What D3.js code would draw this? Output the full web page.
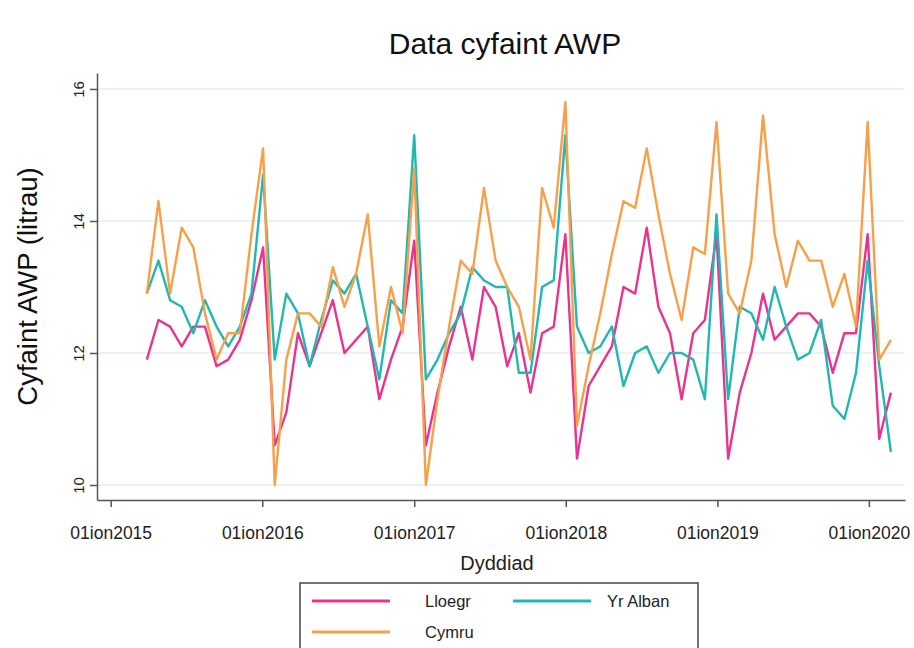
<!DOCTYPE html>
<html>
<head>
<meta charset="utf-8">
<script src="https://cdn.jsdelivr.net/npm/d3@7"></script>
<style>
    body { margin: 0; background: #fff; }
    svg { font-family: "Liberation Sans", Arial, sans-serif; }
</style>
</head>
<body>
<div id="awp-chart"></div>
<script>
// one value every 4 weeks, first period 29 Mar 2015
const startDate = new Date(2015, 2, 29);
const periodDays = 28;

const lloegr = [
    11.9, 12.5, 12.4, 12.1, 12.4, 12.4, 11.8, 11.9, 12.2, 12.8,
    13.6, 10.6, 11.1, 12.3, 11.8, 12.3, 12.8, 12.0, 12.2, 12.4,
    11.3, 11.9, 12.4, 13.7, 10.6, 11.4, 12.1, 12.7, 11.9, 13.0,
    12.7, 11.8, 12.3, 11.4, 12.3, 12.4, 13.8, 10.4, 11.5, 11.8,
    12.1, 13.0, 12.9, 13.9, 12.7, 12.3, 11.3, 12.3, 12.5, 13.8,
    10.4, 11.4, 12.0, 12.9, 12.2, 12.4, 12.6, 12.6, 12.4, 11.7,
    12.3, 12.3, 13.8, 10.7, 11.4
];
const yrAlban = [
    12.9, 13.4, 12.8, 12.7, 12.3, 12.8, 12.4, 12.1, 12.4, 12.9,
    14.7, 11.9, 12.9, 12.6, 11.8, 12.5, 13.1, 12.9, 13.2, 12.4,
    11.6, 12.8, 12.6, 15.3, 11.6, 11.9, 12.3, 12.6, 13.3, 13.1,
    13.0, 13.0, 11.7, 11.7, 13.0, 13.1, 15.3, 12.4, 12.0, 12.1,
    12.4, 11.5, 12.0, 12.1, 11.7, 12.0, 12.0, 11.9, 11.3, 14.1,
    11.3, 12.7, 12.6, 12.2, 13.0, 12.4, 11.9, 12.0, 12.5, 11.2,
    11.0, 11.7, 13.4, 11.8, 10.5
];
const cymru = [
    12.9, 14.3, 12.9, 13.9, 13.6, 12.6, 11.9, 12.3, 12.3, 13.8,
    15.1, 10.0, 11.9, 12.6, 12.6, 12.4, 13.3, 12.7, 13.2, 14.1,
    12.1, 13.0, 12.3, 14.8, 10.0, 11.3, 12.4, 13.4, 13.2, 14.5,
    13.4, 13.0, 12.7, 11.9, 14.5, 13.9, 15.8, 10.9, 11.8, 12.6,
    13.5, 14.3, 14.2, 15.1, 14.1, 13.2, 12.5, 13.6, 13.5, 15.5,
    12.9, 12.6, 13.4, 15.6, 13.8, 13.0, 13.7, 13.4, 13.4, 12.7,
    13.2, 12.4, 15.5, 11.9, 12.2
];

// drawing order matches legend order (Cymru on top)
const seriesNames = ['Lloegr', 'Yr Alban', 'Cymru'];
const seriesValues = [lloegr, yrAlban, cymru];
const seriesColors = ['#e8338f', '#22b7b2', '#f7a049'];

const tickYears = [2015, 2016, 2017, 2018, 2019, 2020];
const yTicks = [10, 12, 14, 16];

drawChart();

function drawChart(){
    let width = 914, height = 648;
    let margin = {top: 73, right: 9, bottom: 148, left: 97};

    let svg = d3.select('#awp-chart').append('svg')
                .attr('width', width)
                .attr('height', height);

    // scales
    let x = d3.scaleTime()
                .domain([new Date(2014, 10, 29), new Date(2020, 2, 28)])
                .range([margin.left, width - margin.right]);
    let y = d3.scaleLinear()
                .domain([9.773, 16.242])
                .range([height - margin.bottom, margin.top]);

    // build rows per series
    let series = seriesNames.map(function(name, i){
        return {
            name: name,
            color: seriesColors[i],
            values: seriesValues[i].map(function(v, k){
                return {date: d3.timeDay.offset(startDate, k * periodDays), value: v};
            })
        };
    });

    // grid lines
    svg.append('g')
        .selectAll('line')
        .data(yTicks)
        .enter().append('line')
        .attr('x1', margin.left)
        .attr('x2', width - margin.right)
        .attr('y1', d => y(d))
        .attr('y2', d => y(d))
        .attr('stroke', '#e4eef0')
        .attr('stroke-width', 1.6);

    // x axis
    let xAxis = svg.append('g')
        .attr('transform', 'translate(0,' + (height - margin.bottom) + ')')
        .call(d3.axisBottom(x)
            .tickValues(tickYears.map(yr => new Date(yr, 0, 1)))
            .tickFormat(d => '01ion' + d.getFullYear())
            .tickSize(7)
            .tickSizeOuter(0)
            .tickPadding(20));
    xAxis.selectAll('text').attr('font-size', 17.5).attr('fill', '#222');
    xAxis.selectAll('path, line').attr('stroke', '#555').attr('stroke-width', 1.5);

    // y axis, labels turned on their side
    let yAxis = svg.append('g')
        .attr('transform', 'translate(' + margin.left + ',0)')
        .call(d3.axisLeft(y)
            .tickValues(yTicks)
            .tickFormat(d3.format('d'))
            .tickSize(7)
            .tickSizeOuter(0));
    yAxis.selectAll('text')
        .attr('transform', 'rotate(-90)')
        .attr('x', 0)
        .attr('y', -13)
        .attr('dy', 0)
        .attr('text-anchor', 'middle')
        .attr('font-size', 15)
        .attr('fill', '#222');
    yAxis.selectAll('path, line').attr('stroke', '#555').attr('stroke-width', 1.5);

    // the lines
    let line = d3.line()
        .x(d => x(d.date))
        .y(d => y(d.value));

    svg.append('g')
        .selectAll('path')
        .data(series)
        .enter().append('path')
        .attr('fill', 'none')
        .attr('stroke', d => d.color)
        .attr('stroke-width', 2.4)
        .attr('stroke-linejoin', 'round')
        .attr('d', d => line(d.values));

    // titles
    svg.append('text')
        .attr('x', (margin.left + width - margin.right) / 2 + 4)
        .attr('y', 54)
        .attr('text-anchor', 'middle')
        .attr('font-size', 30)
        .attr('fill', '#111')
        .text('Data cyfaint AWP');

    svg.append('text')
        .attr('transform', 'translate(37,' + (margin.top + height - margin.bottom) / 2 + ') rotate(-90)')
        .attr('text-anchor', 'middle')
        .attr('font-size', 27.5)
        .attr('fill', '#111')
        .text('Cyfaint AWP (litrau)');

    svg.append('text')
        .attr('x', 497)
        .attr('y', 570)
        .attr('text-anchor', 'middle')
        .attr('font-size', 20)
        .attr('fill', '#222')
        .text('Dyddiad');

    // legend, two columns filled row by row
    let legend = svg.append('g').attr('transform', 'translate(300,583)');
    legend.append('rect')
        .attr('width', 398)
        .attr('height', 90)
        .attr('fill', '#fff')
        .attr('stroke', '#444')
        .attr('stroke-width', 1.5);

    let item = legend.selectAll('g.item')
        .data(series)
        .enter().append('g')
        .attr('class', 'item')
        .attr('transform', (d, i) => 'translate(' + (i % 2 === 0 ? 12 : 213) + ',' + (18 + Math.floor(i / 2) * 31) + ')');
    item.append('line')
        .attr('x1', 0)
        .attr('x2', 78)
        .attr('stroke', d => d.color)
        .attr('stroke-width', 3);
    item.append('text')
        .attr('x', (d, i) => i % 2 === 0 ? 113 : 94)
        .attr('y', 6)
        .attr('font-size', 16.5)
        .attr('fill', '#222')
        .text(d => d.name);
}
</script>
</body>
</html>
